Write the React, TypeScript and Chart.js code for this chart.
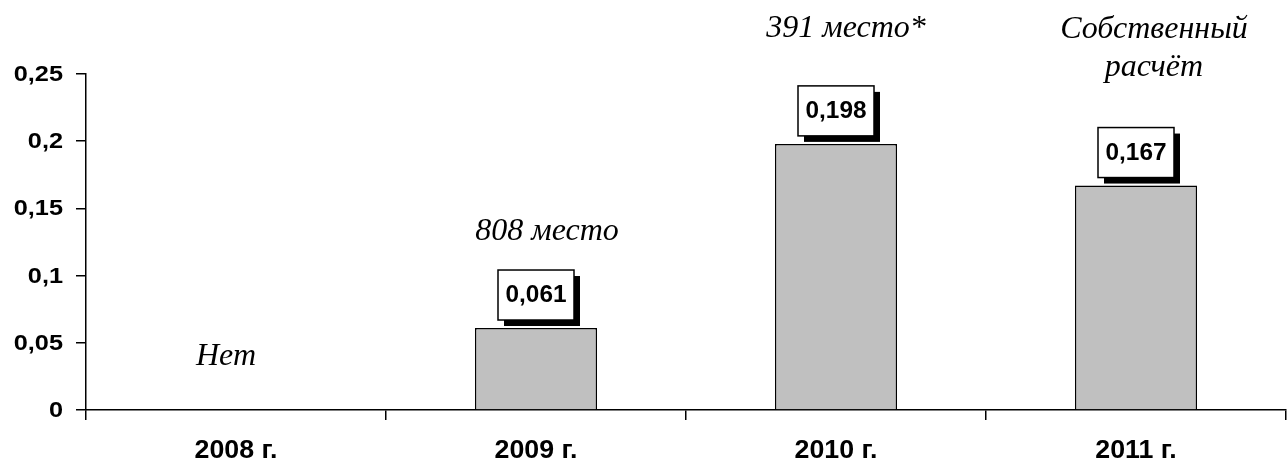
import React, { useEffect, useRef } from "react";
import { Chart, registerables } from "chart.js";

Chart.register(...registerables);

const categories = ["2008 г.", "2009 г.", "2010 г.", "2011 г."];
const values: (number | null)[] = [null, 0.061, 0.198, 0.167];
const valueLabels = ["", "0,061", "0,198", "0,167"];
const notes: string[][] = [["Нет"], ["808 место"], ["391 место*"], ["Собственный", "расчёт"]];
const yTicks = [0, 0.05, 0.1, 0.15, 0.2, 0.25];
const yTickLabels = ["0", "0,05", "0,1", "0,15", "0,2", "0,25"];

const noteStyle = [
  { dx: -10, lift: 45 },
  { dx: 11, lift: 88 },
  { dx: 10, lift: 107 },
  { dx: 18, lift: 110 },
];

function stretchText(ctx: CanvasRenderingContext2D, text: string, x: number, y: number, sx: number) {
  ctx.save();
  ctx.translate(x, y);
  ctx.scale(sx, 1);
  ctx.fillText(text, 0, 0);
  ctx.restore();
}

const labelPlugin = {
  id: "labels",
  afterDraw(chart: any) {
    const ctx = chart.ctx as CanvasRenderingContext2D;
    const x = chart.scales.x;
    const y = chart.scales.y;
    ctx.save();
    ctx.fillStyle = "#000";
    // y tick labels
    ctx.font = "bold 22px 'Liberation Sans', Arial, sans-serif";
    ctx.textAlign = "right";
    ctx.textBaseline = "alphabetic";
    yTicks.forEach((v, i) => {
      stretchText(ctx, yTickLabels[i], 63, y.getPixelForValue(v) + 7, 1.15);
    });
    // x tick labels
    ctx.font = "bold 25px 'Liberation Sans', Arial, sans-serif";
    ctx.textAlign = "center";
    categories.forEach((c, i) => {
      stretchText(ctx, c, x.getPixelForValue(i), 458, 1.07);
    });
    categories.forEach((_, i) => {
      const cx = x.getPixelForValue(i);
      const v = values[i] ?? 0;
      const top = y.getPixelForValue(v);
      if (values[i] != null) {
        const w = 76, h = 50;
        const bx = cx - w / 2;
        const by = top - 8 - h;
        ctx.fillStyle = "#000";
        ctx.fillRect(bx + 6, by + 6, w, h);
        ctx.fillStyle = "#fff";
        ctx.fillRect(bx, by, w, h);
        ctx.strokeStyle = "#000";
        ctx.lineWidth = 1.5;
        ctx.strokeRect(bx, by, w, h);
        ctx.fillStyle = "#000";
        ctx.font = "bold 23px 'Liberation Sans', Arial, sans-serif";
        ctx.textAlign = "center";
        ctx.textBaseline = "middle";
        stretchText(ctx, valueLabels[i], cx, by + h / 2 + 1, 1.06);
      }
      const lines = notes[i];
      const st = noteStyle[i];
      ctx.font = "italic 32px 'Liberation Serif', 'Times New Roman', serif";
      ctx.textAlign = "center";
      ctx.textBaseline = "alphabetic";
      ctx.fillStyle = "#000";
      const base = top - st.lift;
      lines.forEach((ln, k) => {
        ctx.fillText(ln, cx + st.dx, base - (lines.length - 1 - k) * 38);
      });
    });
    ctx.restore();
  },
};

export default function App() {
  const ref = useRef<HTMLCanvasElement>(null);
  useEffect(() => {
    document.body.style.margin = "0";
    const chart = new Chart(ref.current!, {
      type: "bar",
      data: {
        labels: categories,
        datasets: [
          {
            data: values as any,
            backgroundColor: "#c0c0c0",
            borderColor: "#000",
            borderWidth: 1.5,
            barPercentage: 0.407,
            categoryPercentage: 1,
          },
        ],
      },
      options: {
        animation: false,
        responsive: false,
        layout: { padding: { left: 0, top: 74, right: 1, bottom: 0 } },
        plugins: { legend: { display: false }, tooltip: { enabled: false } },
        scales: {
          x: {
            afterFit(s: any) {
              s.height = 52;
            },
            grid: {
              offset: true,
              drawOnChartArea: false,
              tickLength: 10,
              color: "#000",
              lineWidth: 1.5,
            },
            border: { color: "#000", width: 1.5 },
            ticks: { display: false },
          },
          y: {
            min: 0,
            max: 0.25,
            afterFit(s: any) {
              s.width = 86;
            },
            afterBuildTicks(s: any) {
              s.ticks = yTicks.map((v) => ({ value: v }));
            },
            grid: {
              drawOnChartArea: false,
              tickLength: 10,
              color: "#000",
              lineWidth: 1.5,
            },
            border: { color: "#000", width: 1.5 },
            ticks: { display: false },
          },
        },
      },
      plugins: [labelPlugin],
    });
    return () => chart.destroy();
  }, []);
  return <canvas ref={ref} width={1287} height={462} style={{ display: "block" }} />;
}
